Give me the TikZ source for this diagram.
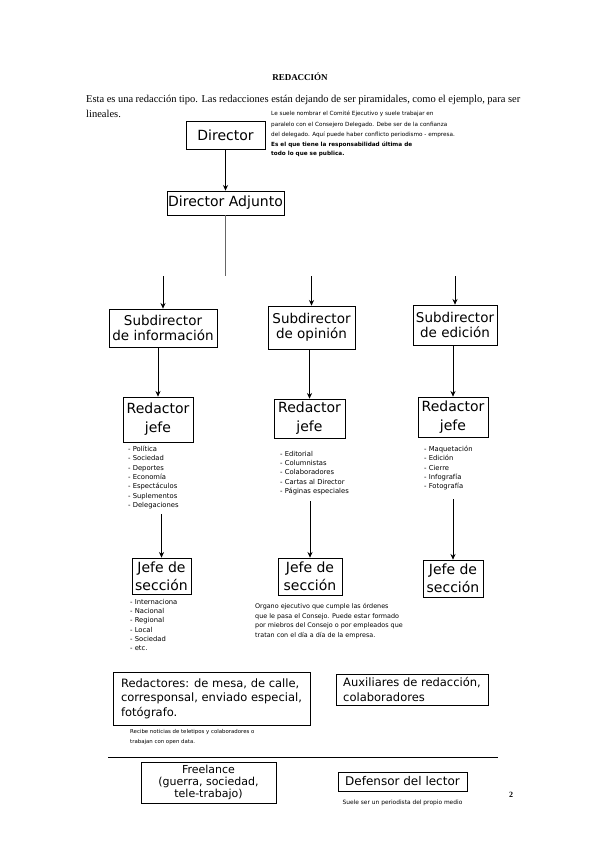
\documentclass[tikz,border=0pt]{standalone}
\usepackage{fontspec}
\setmainfont{Liberation Serif}
\newfontfamily\cajafont{DejaVu Sans}
\usetikzlibrary{arrows.meta, positioning}
\tikzset{
  caja/.style={draw, line width=0.7pt, inner sep=1pt, align=center},
  arr/.style={-{Stealth[length=2mm, width=1.8mm]}, line width=0.8pt},
  lista/.style={anchor=north west, align=left, inner sep=0pt},
  fs/.style 2 args={font=\cajafont\fontsize{#1}{#2}\selectfont},
}

\begin{document}
\begin{tikzpicture}[x=1pt, y=-1pt]
  \fill[white] (0,0) rectangle (599,848);
  \useasboundingbox (0,0) rectangle (599,848);

  % cabecera
  \node (titulo) at (300,77) {\fontsize{9}{11}\selectfont\bfseries REDACCIÓN};
  \node[lista, align=left, font=\fontsize{10.5}{15}\selectfont] (intro) at (86,95)
    {\makebox[434pt][s]{Esta es una redacción tipo. Las redacciones están dejando de ser piramidales, como el ejemplo, para ser}\\lineales.};

  % direccion
  \node[caja, fs={14}{17}, minimum width=79pt, minimum height=28pt] (dir) at (225.5,135) {Director};
  \node[lista, fs={5.7}{10.4}] (notadir) at (271,111)
    {Le suele nombrar el Comité Ejecutivo y suele trabajar en\\
     paralelo con el Consejero Delegado. Debe ser de la confianza\\
     del delegado. Aquí puede haber conflicto periodismo - empresa.};
  \node[lista, font=\cajafont\bfseries\fontsize{5.7}{9}\selectfont] (notadir2) at (271,142)
    {Es el que tiene la responsabilidad última de\\todo lo que se publica.};
  \node[caja, fs={14}{17}, minimum width=117pt, minimum height=24pt] (adj) at (225.5,203) {Director Adjunto};
  \draw[arr] (dir.south) -- (adj.north);
  \coordinate (bif) at (225.5,276);
  \draw[line width=1pt, black!60] (adj.south) -- (bif);

  % subdirectores
  \node[caja, fs={13.5}{15}, minimum width=108pt, minimum height=38pt] (sub1) at (163,328) {Subdirector\\de información};
  \node[caja, fs={13.5}{15}, minimum width=87pt, minimum height=43pt] (sub2) at (311.5,327.5) {Subdirector\\de opinión};
  \node[caja, fs={13.5}{15}, minimum width=84pt, minimum height=40pt] (sub3) at (455,325) {Subdirector\\de edición};
  \foreach \s in {sub1, sub2, sub3}
    \draw[arr] (\s.north |- bif) -- (\s.north);

  % redactores jefe
  \node[caja, fs={14}{19}, minimum width=70pt, minimum height=45pt] (red1) at (158,419.5) {Redactor\\jefe};
  \node[caja, fs={14}{19}, minimum width=71pt, minimum height=39pt] (red2) at (309.5,418.5) {Redactor\\jefe};
  \node[caja, fs={14}{19}, minimum width=70pt, minimum height=40pt] (red3) at (453,417) {Redactor\\jefe};
  \draw[arr] (red1.north |- sub1.south) -- (red1.north);
  \draw[arr] (red2.north |- sub2.south) -- (red2.north);
  \draw[arr] (red3.north |- sub3.south) -- (red3.north);

  \node[lista, fs={6.8}{9.3}] (lista1) at (128,446)
    {- Política\\- Sociedad\\- Deportes\\- Economía\\- Espectáculos\\- Suplementos\\- Delegaciones};
  \node[lista, fs={6.8}{9.3}] (lista2) at (280,451)
    {- Editorial\\- Columnistas\\- Colaboradores\\- Cartas al Director\\- Páginas especiales};
  \node[lista, fs={6.8}{9.3}] (lista3) at (424,446)
    {- Maquetación\\- Edición\\- Cierre\\- Infografía\\- Fotografía};

  % jefes de seccion
  \node[caja, fs={14}{18}, minimum width=59pt, minimum height=36pt] (jefe1) at (161.5,576) {Jefe de\\sección};
  \node[caja, fs={14}{18}, minimum width=64pt, minimum height=37pt] (jefe2) at (310,576.5) {Jefe de\\sección};
  \node[caja, fs={14}{18}, minimum width=60pt, minimum height=37pt] (jefe3) at (453,578.5) {Jefe de\\sección};
  \draw[arr, shorten <=5pt] (jefe1.north |- lista1.south) -- (jefe1.north);
  \draw[arr, shorten <=6pt] (jefe2.north |- lista2.south) -- (jefe2.north);
  \draw[arr, shorten <=9pt] (jefe3.north |- lista3.south) -- (jefe3.north);

  \node[lista, fs={6.8}{9.3}] (lista4) at (130,599)
    {- Internaciona\\- Nacional\\- Regional\\- Local\\- Sociedad\\- etc.};
  \node[lista, fs={6.4}{9.7}] (notajefe) at (255,603)
    {Organo ejecutivo que cumple las órdenes\\
     que le pasa el Consejo. Puede estar formado\\
     por miebros del Consejo o por empleados que\\
     tratan con el día a día de la empresa.};

  % redactores y auxiliares
  \node[caja, align=left, fs={11.5}{14.5}, minimum width=197pt, minimum height=53pt] (redac) at (211.5,698.5)
    {Redactores: de mesa, de calle,\\corresponsal, enviado especial,\\fotógrafo.};
  \node[caja, align=left, fs={11.5}{14.5}, minimum width=152pt, minimum height=31pt] (aux) at (412,689.5)
    {Auxiliares de redacción,\\colaboradores};
  \node[lista, fs={5.4}{10}] (notaredac) at (130,729)
    {Recibe noticias de teletipos y colaboradores o\\trabajan con open data.};

  \draw[line width=0.8pt] (108,757) -- (498,757);

  % fuera de la estructura
  \node[caja, inner sep=0pt, fs={11}{12.3}, minimum width=135pt, minimum height=41pt] (free) at (208.5,782.5)
    {Freelance\\(guerra, sociedad,\\tele-trabajo)};
  \node[caja, fs={12}{14}, minimum width=129pt, minimum height=19pt] (def) at (402.5,781.5) {Defensor del lector};
  \node[fs={5.9}{7}, below=5pt of def] (notadef) {Suele ser un periodista del propio medio};
  \node (pag) at (511,795) {\fontsize{8}{10}\selectfont\bfseries 2};
\end{tikzpicture}
\end{document}
